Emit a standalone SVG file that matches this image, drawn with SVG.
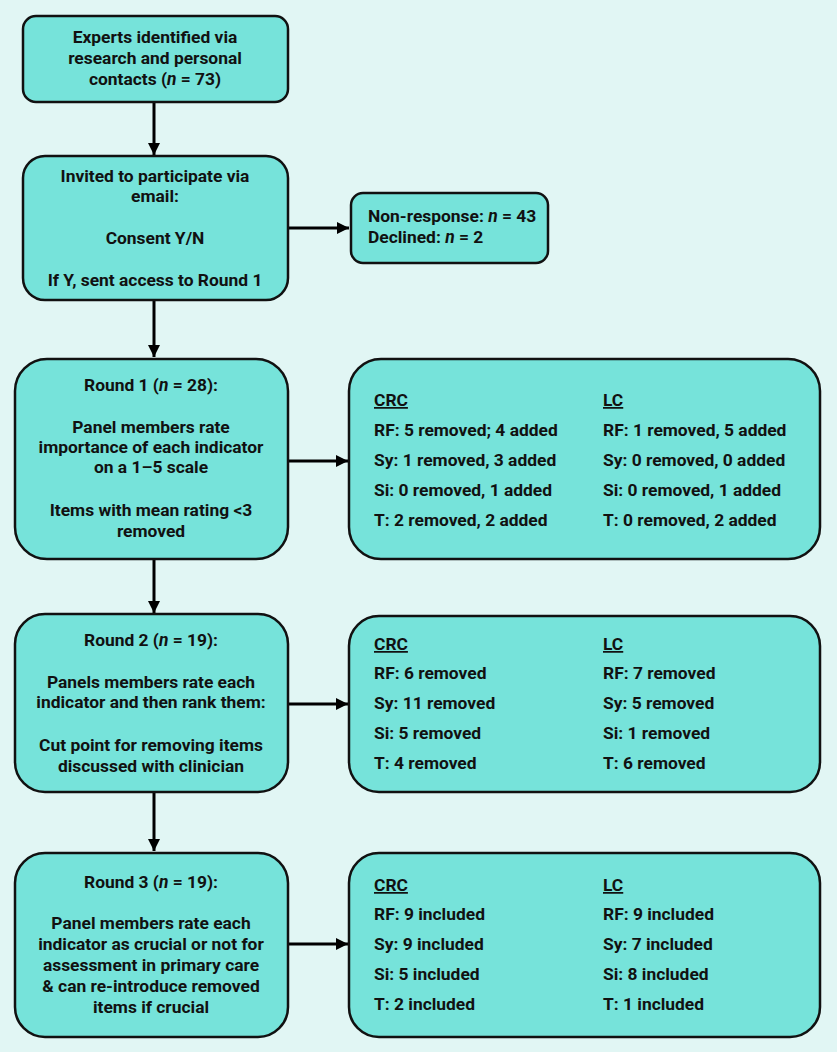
<svg xmlns="http://www.w3.org/2000/svg" width="837" height="1052" viewBox="0 0 837 1052">
<defs>
<marker id="ah" viewBox="0 0 10 10" refX="10" refY="5" markerWidth="4" markerHeight="4" orient="auto" markerUnits="strokeWidth">
<path d="M0,0 L10,5 L0,10 z" fill="#000"/>
</marker>
<style>
.box{fill:#76e3da;stroke:#111;stroke-width:2.5}
.t{font-family:Roboto,"Liberation Sans",sans-serif;font-weight:700;font-size:17.4px;fill:#111}
.c{text-anchor:middle}
.i{font-style:italic}
.u{text-decoration:underline}
.conn{stroke:#000;stroke-width:3;fill:none;marker-end:url(#ah)}
</style>
</defs>
<rect x="0" y="0" width="837" height="1052" fill="#e1f6f4"/>
<g id="connectors">
<line class="conn" x1="154" y1="102" x2="154" y2="155"/>
<line class="conn" x1="154" y1="300" x2="154" y2="357"/>
<line class="conn" x1="154" y1="559" x2="154" y2="613"/>
<line class="conn" x1="154" y1="792" x2="154" y2="851"/>
<line class="conn" x1="288" y1="228" x2="349" y2="228"/>
<line class="conn" x1="288" y1="461" x2="348" y2="461"/>
<line class="conn" x1="288" y1="704" x2="348" y2="704"/>
<line class="conn" x1="288" y1="944" x2="348" y2="944"/>
</g>
<g id="experts">
<rect class="box" x="23" y="16" width="265" height="86" rx="13"/>
<text class="t c" x="155" y="43">Experts identified via</text>
<text class="t c" x="155" y="64">research and personal</text>
<text class="t c" x="155" y="85">contacts (<tspan class="i">n</tspan> = 73)</text>
</g>
<g id="invited">
<rect class="box" x="23" y="156" width="265" height="144" rx="22"/>
<text class="t c" x="155" y="182">Invited to participate via</text>
<text class="t c" x="155" y="202">email:</text>
<text class="t c" x="155" y="244">Consent Y/N</text>
<text class="t c" x="155" y="286">If Y, sent access to Round 1</text>
</g>
<g id="nonresponse">
<rect class="box" x="351" y="193" width="197" height="70" rx="12"/>
<text class="t" x="368" y="222">Non-response: <tspan class="i">n</tspan> = 43</text>
<text class="t" x="368" y="243">Declined: <tspan class="i">n</tspan> = 2</text>
</g>
<g id="round1">
<rect class="box" x="15" y="359" width="273" height="200" rx="32"/>
<text class="t c" x="151" y="391">Round 1 (<tspan class="i">n</tspan> = 28):</text>
<text class="t c" x="151" y="433">Panel members rate</text>
<text class="t c" x="151" y="453">importance of each indicator</text>
<text class="t c" x="151" y="473">on a 1–5 scale</text>
<text class="t c" x="151" y="516">Items with mean rating &lt;3</text>
<text class="t c" x="151" y="537">removed</text>
</g>
<g id="round1-results">
<rect class="box" x="349" y="359" width="471" height="200" rx="32"/>
<text class="t u" x="374" y="406">CRC</text>
<text class="t" x="374" y="436">RF: 5 removed; 4 added</text>
<text class="t" x="374" y="466">Sy: 1 removed, 3 added</text>
<text class="t" x="374" y="496">Si: 0 removed, 1 added</text>
<text class="t" x="374" y="526">T: 2 removed, 2 added</text>
<text class="t u" x="603" y="406">LC</text>
<text class="t" x="603" y="436">RF: 1 removed, 5 added</text>
<text class="t" x="603" y="466">Sy: 0 removed, 0 added</text>
<text class="t" x="603" y="496">Si: 0 removed, 1 added</text>
<text class="t" x="603" y="526">T: 0 removed, 2 added</text>
</g>
<g id="round2">
<rect class="box" x="15" y="614" width="273" height="178" rx="30"/>
<text class="t c" x="151" y="646">Round 2 (<tspan class="i">n</tspan> = 19):</text>
<text class="t c" x="151" y="688">Panels members rate each</text>
<text class="t c" x="151" y="708">indicator and then rank them:</text>
<text class="t c" x="151" y="751">Cut point for removing items</text>
<text class="t c" x="151" y="772">discussed with clinician</text>
</g>
<g id="round2-results">
<rect class="box" x="349" y="616" width="471" height="176" rx="30"/>
<text class="t u" x="374" y="650">CRC</text>
<text class="t" x="374" y="679">RF: 6 removed</text>
<text class="t" x="374" y="709">Sy: 11 removed</text>
<text class="t" x="374" y="739">Si: 5 removed</text>
<text class="t" x="374" y="769">T: 4 removed</text>
<text class="t u" x="603" y="650">LC</text>
<text class="t" x="603" y="679">RF: 7 removed</text>
<text class="t" x="603" y="709">Sy: 5 removed</text>
<text class="t" x="603" y="739">Si: 1 removed</text>
<text class="t" x="603" y="769">T: 6 removed</text>
</g>
<g id="round3">
<rect class="box" x="15" y="853" width="273" height="184" rx="30"/>
<text class="t c" x="151" y="888">Round 3 (<tspan class="i">n</tspan> = 19):</text>
<text class="t c" x="151" y="929">Panel members rate each</text>
<text class="t c" x="151" y="950">indicator as crucial or not for</text>
<text class="t c" x="151" y="971">assessment in primary care</text>
<text class="t c" x="151" y="992">&amp; can re-introduce removed</text>
<text class="t c" x="151" y="1013">items if crucial</text>
</g>
<g id="round3-results">
<rect class="box" x="349" y="853" width="471" height="184" rx="30"/>
<text class="t u" x="374" y="891">CRC</text>
<text class="t" x="374" y="920">RF: 9 included</text>
<text class="t" x="374" y="950">Sy: 9 included</text>
<text class="t" x="374" y="980">Si: 5 included</text>
<text class="t" x="374" y="1010">T: 2 included</text>
<text class="t u" x="603" y="891">LC</text>
<text class="t" x="603" y="920">RF: 9 included</text>
<text class="t" x="603" y="950">Sy: 7 included</text>
<text class="t" x="603" y="980">Si: 8 included</text>
<text class="t" x="603" y="1010">T: 1 included</text>
</g>
</svg>
